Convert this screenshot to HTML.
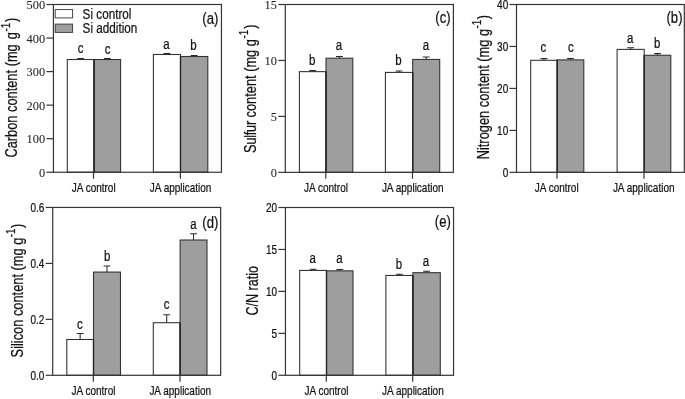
<!DOCTYPE html>
<html><head><meta charset="utf-8"><title>Figure</title>
<style>html,body{margin:0;padding:0;background:#fff;overflow:hidden}svg{display:block;will-change:transform;transform:translateZ(0)}</style></head><body>
<svg width="685" height="399" viewBox="0 0 685 399">
<rect width="685" height="399" fill="#fff"/>
<path d="M80.65 59.52V58.52M77.25 58.52H84.05" stroke="#2a2a2a" stroke-width="1.05" fill="none"/>
<rect x="67.30" y="59.52" width="26.70" height="112.73" fill="#ffffff"/>
<path d="M107.30 59.52V58.52M103.90 58.52H110.70" stroke="#2a2a2a" stroke-width="1.05" fill="none"/>
<rect x="94.00" y="59.52" width="26.60" height="112.73" fill="#9e9e9e"/>
<path d="M166.95 54.49V53.48M163.55 53.48H170.35" stroke="#2a2a2a" stroke-width="1.05" fill="none"/>
<rect x="153.40" y="54.49" width="27.10" height="117.76" fill="#ffffff"/>
<path d="M194.15 56.50V55.50M190.75 55.50H197.55" stroke="#2a2a2a" stroke-width="1.05" fill="none"/>
<rect x="180.50" y="56.50" width="27.30" height="115.75" fill="#9e9e9e"/>
<rect x="67.30" y="59.52" width="26.70" height="112.73" fill="none" stroke="#323232" stroke-width="1.08"/>
<rect x="94.00" y="59.52" width="26.60" height="112.73" fill="none" stroke="#323232" stroke-width="1.08"/>
<rect x="153.40" y="54.49" width="27.10" height="117.76" fill="none" stroke="#323232" stroke-width="1.08"/>
<rect x="180.50" y="56.50" width="27.30" height="115.75" fill="none" stroke="#323232" stroke-width="1.08"/>
<path d="M94.00 59.52V172.25" stroke="#222" stroke-width="1.25"/>
<path d="M180.50 56.50V172.25" stroke="#222" stroke-width="1.25"/>
<rect x="53.45" y="4.50" width="168.00" height="167.75" fill="none" stroke="#353535" stroke-width="1.2"/>
<path d="M46.45 172.25H53.45" stroke="#353535" stroke-width="1.2"/>
<text x="45.15" y="176.80" font-family="'Liberation Serif', serif" font-size="12.4" text-anchor="end" fill="#1c1c1c" stroke="#1c1c1c" stroke-width="0.04">0</text>
<path d="M46.45 138.70H53.45" stroke="#353535" stroke-width="1.2"/>
<text x="45.15" y="143.25" font-family="'Liberation Serif', serif" font-size="12.4" text-anchor="end" fill="#1c1c1c" stroke="#1c1c1c" stroke-width="0.04">100</text>
<path d="M46.45 105.15H53.45" stroke="#353535" stroke-width="1.2"/>
<text x="45.15" y="109.70" font-family="'Liberation Serif', serif" font-size="12.4" text-anchor="end" fill="#1c1c1c" stroke="#1c1c1c" stroke-width="0.04">200</text>
<path d="M46.45 71.60H53.45" stroke="#353535" stroke-width="1.2"/>
<text x="45.15" y="76.15" font-family="'Liberation Serif', serif" font-size="12.4" text-anchor="end" fill="#1c1c1c" stroke="#1c1c1c" stroke-width="0.04">300</text>
<path d="M46.45 38.05H53.45" stroke="#353535" stroke-width="1.2"/>
<text x="45.15" y="42.60" font-family="'Liberation Serif', serif" font-size="12.4" text-anchor="end" fill="#1c1c1c" stroke="#1c1c1c" stroke-width="0.04">400</text>
<path d="M46.45 4.50H53.45" stroke="#353535" stroke-width="1.2"/>
<text x="45.15" y="9.05" font-family="'Liberation Serif', serif" font-size="12.4" text-anchor="end" fill="#1c1c1c" stroke="#1c1c1c" stroke-width="0.04">500</text>
<path d="M93.50 172.25V178.75" stroke="#353535" stroke-width="1.2"/>
<path d="M180.40 172.25V178.75" stroke="#353535" stroke-width="1.2"/>
<text transform="translate(93.70,192.30) scale(0.82,1)" font-family="'Liberation Sans', sans-serif" font-size="12.2" text-anchor="middle" fill="#111" stroke="#111" stroke-width="0.22">JA control</text>
<text transform="translate(180.60,192.30) scale(0.82,1)" font-family="'Liberation Sans', sans-serif" font-size="12.2" text-anchor="middle" fill="#111" stroke="#111" stroke-width="0.22">JA application</text>
<text transform="translate(80.50,53.10) scale(0.82,1)" font-family="'Liberation Sans', sans-serif" font-size="14" text-anchor="middle" fill="#111" stroke="#111" stroke-width="0.22">c</text>
<text transform="translate(107.50,54.10) scale(0.82,1)" font-family="'Liberation Sans', sans-serif" font-size="14" text-anchor="middle" fill="#111" stroke="#111" stroke-width="0.22">c</text>
<text transform="translate(166.40,48.60) scale(0.82,1)" font-family="'Liberation Sans', sans-serif" font-size="14" text-anchor="middle" fill="#111" stroke="#111" stroke-width="0.22">a</text>
<text transform="translate(193.50,50.10) scale(0.82,1)" font-family="'Liberation Sans', sans-serif" font-size="14" text-anchor="middle" fill="#111" stroke="#111" stroke-width="0.22">b</text>
<text transform="translate(210.30,23.65) scale(0.82,1)" font-family="'Liberation Sans', sans-serif" font-size="16" text-anchor="middle" fill="#111" stroke="#111" stroke-width="0.22">(a)</text>
<text transform="translate(17.40,157.60) rotate(-90) scale(0.817,1)" font-family="'Liberation Sans', sans-serif" font-size="15.7" text-anchor="start" fill="#111" stroke="#111" stroke-width="0.22">Carbon content (mg <tspan dx="1.8">g</tspan><tspan font-size="12" dy="-7.9" dx="0.8">-1</tspan><tspan dy="7.9" dx="1.0">)</tspan></text>
<path d="M312.70 71.64V70.52M309.30 70.52H316.10" stroke="#2a2a2a" stroke-width="1.05" fill="none"/>
<rect x="299.40" y="71.64" width="26.60" height="100.71" fill="#ffffff"/>
<path d="M339.40 58.21V56.53M336.00 56.53H342.80" stroke="#2a2a2a" stroke-width="1.05" fill="none"/>
<rect x="326.00" y="58.21" width="26.80" height="114.14" fill="#9e9e9e"/>
<path d="M399.05 72.42V71.08M395.65 71.08H402.45" stroke="#2a2a2a" stroke-width="1.05" fill="none"/>
<rect x="385.40" y="72.42" width="27.30" height="99.93" fill="#ffffff"/>
<path d="M426.20 59.44V57.09M422.80 57.09H429.60" stroke="#2a2a2a" stroke-width="1.05" fill="none"/>
<rect x="412.70" y="59.44" width="27.00" height="112.91" fill="#9e9e9e"/>
<rect x="299.40" y="71.64" width="26.60" height="100.71" fill="none" stroke="#323232" stroke-width="1.08"/>
<rect x="326.00" y="58.21" width="26.80" height="114.14" fill="none" stroke="#323232" stroke-width="1.08"/>
<rect x="385.40" y="72.42" width="27.30" height="99.93" fill="none" stroke="#323232" stroke-width="1.08"/>
<rect x="412.70" y="59.44" width="27.00" height="112.91" fill="none" stroke="#323232" stroke-width="1.08"/>
<path d="M326.00 71.64V172.35" stroke="#222" stroke-width="1.25"/>
<path d="M412.70 72.42V172.35" stroke="#222" stroke-width="1.25"/>
<rect x="285.30" y="4.50" width="168.10" height="167.85" fill="none" stroke="#353535" stroke-width="1.2"/>
<path d="M278.30 172.35H285.30" stroke="#353535" stroke-width="1.2"/>
<text x="277.00" y="176.90" font-family="'Liberation Serif', serif" font-size="12.4" text-anchor="end" fill="#1c1c1c" stroke="#1c1c1c" stroke-width="0.04">0</text>
<path d="M278.30 116.40H285.30" stroke="#353535" stroke-width="1.2"/>
<text x="277.00" y="120.95" font-family="'Liberation Serif', serif" font-size="12.4" text-anchor="end" fill="#1c1c1c" stroke="#1c1c1c" stroke-width="0.04">5</text>
<path d="M278.30 60.45H285.30" stroke="#353535" stroke-width="1.2"/>
<text x="277.00" y="65.00" font-family="'Liberation Serif', serif" font-size="12.4" text-anchor="end" fill="#1c1c1c" stroke="#1c1c1c" stroke-width="0.04">10</text>
<path d="M278.30 4.50H285.30" stroke="#353535" stroke-width="1.2"/>
<text x="277.00" y="9.05" font-family="'Liberation Serif', serif" font-size="12.4" text-anchor="end" fill="#1c1c1c" stroke="#1c1c1c" stroke-width="0.04">15</text>
<path d="M325.80 172.35V178.85" stroke="#353535" stroke-width="1.2"/>
<path d="M412.50 172.35V178.85" stroke="#353535" stroke-width="1.2"/>
<text transform="translate(326.00,192.40) scale(0.82,1)" font-family="'Liberation Sans', sans-serif" font-size="12.2" text-anchor="middle" fill="#111" stroke="#111" stroke-width="0.22">JA control</text>
<text transform="translate(412.70,192.40) scale(0.82,1)" font-family="'Liberation Sans', sans-serif" font-size="12.2" text-anchor="middle" fill="#111" stroke="#111" stroke-width="0.22">JA application</text>
<text transform="translate(312.20,64.70) scale(0.82,1)" font-family="'Liberation Sans', sans-serif" font-size="14" text-anchor="middle" fill="#111" stroke="#111" stroke-width="0.22">b</text>
<text transform="translate(339.00,50.10) scale(0.82,1)" font-family="'Liberation Sans', sans-serif" font-size="14" text-anchor="middle" fill="#111" stroke="#111" stroke-width="0.22">a</text>
<text transform="translate(398.40,65.20) scale(0.82,1)" font-family="'Liberation Sans', sans-serif" font-size="14" text-anchor="middle" fill="#111" stroke="#111" stroke-width="0.22">b</text>
<text transform="translate(426.00,50.10) scale(0.82,1)" font-family="'Liberation Sans', sans-serif" font-size="14" text-anchor="middle" fill="#111" stroke="#111" stroke-width="0.22">a</text>
<text transform="translate(443.00,23.15) scale(0.82,1)" font-family="'Liberation Sans', sans-serif" font-size="16" text-anchor="middle" fill="#111" stroke="#111" stroke-width="0.22">(c)</text>
<text transform="translate(256.20,152.90) rotate(-90) scale(0.817,1)" font-family="'Liberation Sans', sans-serif" font-size="15.7" text-anchor="start" fill="#111" stroke="#111" stroke-width="0.22"><tspan letter-spacing="-0.33">Sulfur</tspan> content (mg <tspan dx="0">g</tspan><tspan font-size="12" dy="-7.9" dx="0.6">-1</tspan><tspan dy="7.9" dx="1.4">)</tspan></text>
<path d="M543.95 60.31V58.63M540.55 58.63H547.35" stroke="#2a2a2a" stroke-width="1.05" fill="none"/>
<rect x="530.70" y="60.31" width="26.50" height="112.04" fill="#ffffff"/>
<path d="M570.50 59.89V58.42M567.10 58.42H573.90" stroke="#2a2a2a" stroke-width="1.05" fill="none"/>
<rect x="557.20" y="59.89" width="26.60" height="112.46" fill="#9e9e9e"/>
<path d="M630.65 49.40V47.72M627.25 47.72H634.05" stroke="#2a2a2a" stroke-width="1.05" fill="none"/>
<rect x="617.10" y="49.40" width="27.10" height="122.95" fill="#ffffff"/>
<path d="M657.50 55.27V53.60M654.10 53.60H660.90" stroke="#2a2a2a" stroke-width="1.05" fill="none"/>
<rect x="644.20" y="55.27" width="26.60" height="117.08" fill="#9e9e9e"/>
<rect x="530.70" y="60.31" width="26.50" height="112.04" fill="none" stroke="#323232" stroke-width="1.08"/>
<rect x="557.20" y="59.89" width="26.60" height="112.46" fill="none" stroke="#323232" stroke-width="1.08"/>
<rect x="617.10" y="49.40" width="27.10" height="122.95" fill="none" stroke="#323232" stroke-width="1.08"/>
<rect x="644.20" y="55.27" width="26.60" height="117.08" fill="none" stroke="#323232" stroke-width="1.08"/>
<path d="M557.20 60.31V172.35" stroke="#222" stroke-width="1.25"/>
<path d="M644.20 55.27V172.35" stroke="#222" stroke-width="1.25"/>
<rect x="516.50" y="4.50" width="167.80" height="167.85" fill="none" stroke="#353535" stroke-width="1.2"/>
<path d="M509.50 172.35H516.50" stroke="#353535" stroke-width="1.2"/>
<text transform="translate(508.20,176.95) scale(0.82,1)" font-family="'Liberation Sans', sans-serif" font-size="12.2" text-anchor="end" fill="#111" stroke="#111" stroke-width="0.22">0</text>
<path d="M509.50 130.39H516.50" stroke="#353535" stroke-width="1.2"/>
<text transform="translate(508.20,134.99) scale(0.82,1)" font-family="'Liberation Sans', sans-serif" font-size="12.2" text-anchor="end" fill="#111" stroke="#111" stroke-width="0.22">10</text>
<path d="M509.50 88.42H516.50" stroke="#353535" stroke-width="1.2"/>
<text transform="translate(508.20,93.02) scale(0.82,1)" font-family="'Liberation Sans', sans-serif" font-size="12.2" text-anchor="end" fill="#111" stroke="#111" stroke-width="0.22">20</text>
<path d="M509.50 46.46H516.50" stroke="#353535" stroke-width="1.2"/>
<text transform="translate(508.20,51.06) scale(0.82,1)" font-family="'Liberation Sans', sans-serif" font-size="12.2" text-anchor="end" fill="#111" stroke="#111" stroke-width="0.22">30</text>
<path d="M509.50 4.50H516.50" stroke="#353535" stroke-width="1.2"/>
<text transform="translate(508.20,9.10) scale(0.82,1)" font-family="'Liberation Sans', sans-serif" font-size="12.2" text-anchor="end" fill="#111" stroke="#111" stroke-width="0.22">40</text>
<path d="M557.00 172.35V178.85" stroke="#353535" stroke-width="1.2"/>
<path d="M644.00 172.35V178.85" stroke="#353535" stroke-width="1.2"/>
<text transform="translate(556.70,192.40) scale(0.82,1)" font-family="'Liberation Sans', sans-serif" font-size="12.2" text-anchor="middle" fill="#111" stroke="#111" stroke-width="0.22">JA control</text>
<text transform="translate(643.70,192.40) scale(0.82,1)" font-family="'Liberation Sans', sans-serif" font-size="12.2" text-anchor="middle" fill="#111" stroke="#111" stroke-width="0.22">JA application</text>
<text transform="translate(543.40,52.30) scale(0.82,1)" font-family="'Liberation Sans', sans-serif" font-size="14" text-anchor="middle" fill="#111" stroke="#111" stroke-width="0.22">c</text>
<text transform="translate(570.80,52.30) scale(0.82,1)" font-family="'Liberation Sans', sans-serif" font-size="14" text-anchor="middle" fill="#111" stroke="#111" stroke-width="0.22">c</text>
<text transform="translate(630.20,42.50) scale(0.82,1)" font-family="'Liberation Sans', sans-serif" font-size="14" text-anchor="middle" fill="#111" stroke="#111" stroke-width="0.22">a</text>
<text transform="translate(657.20,47.50) scale(0.82,1)" font-family="'Liberation Sans', sans-serif" font-size="14" text-anchor="middle" fill="#111" stroke="#111" stroke-width="0.22">b</text>
<text transform="translate(674.50,23.45) scale(0.82,1)" font-family="'Liberation Sans', sans-serif" font-size="16" text-anchor="middle" fill="#111" stroke="#111" stroke-width="0.22">(b)</text>
<text transform="translate(488.80,159.30) rotate(-90) scale(0.817,1)" font-family="'Liberation Sans', sans-serif" font-size="15.7" text-anchor="start" fill="#111" stroke="#111" stroke-width="0.22">Nitrogen content (mg <tspan dx="0">g</tspan><tspan font-size="12" dy="-7.9" dx="0.5">-1</tspan><tspan dy="7.9" dx="0.7">)</tspan></text>
<path d="M80.15 339.49V333.48M76.75 333.48H83.55" stroke="#2a2a2a" stroke-width="1.05" fill="none"/>
<rect x="66.80" y="339.49" width="26.70" height="35.81" fill="#ffffff"/>
<path d="M107.00 272.07V265.92M103.60 265.92H110.40" stroke="#2a2a2a" stroke-width="1.05" fill="none"/>
<rect x="93.50" y="272.07" width="27.00" height="103.23" fill="#9e9e9e"/>
<path d="M166.70 322.71V314.68M163.30 314.68H170.10" stroke="#2a2a2a" stroke-width="1.05" fill="none"/>
<rect x="153.30" y="322.71" width="26.80" height="52.59" fill="#ffffff"/>
<path d="M193.55 240.01V233.75M190.15 233.75H196.95" stroke="#2a2a2a" stroke-width="1.05" fill="none"/>
<rect x="180.10" y="240.01" width="26.90" height="135.29" fill="#9e9e9e"/>
<rect x="66.80" y="339.49" width="26.70" height="35.81" fill="none" stroke="#323232" stroke-width="1.08"/>
<rect x="93.50" y="272.07" width="27.00" height="103.23" fill="none" stroke="#323232" stroke-width="1.08"/>
<rect x="153.30" y="322.71" width="26.80" height="52.59" fill="none" stroke="#323232" stroke-width="1.08"/>
<rect x="180.10" y="240.01" width="26.90" height="135.29" fill="none" stroke="#323232" stroke-width="1.08"/>
<path d="M93.50 339.49V375.30" stroke="#222" stroke-width="1.25"/>
<path d="M180.10 322.71V375.30" stroke="#222" stroke-width="1.25"/>
<rect x="52.70" y="207.45" width="167.95" height="167.85" fill="none" stroke="#353535" stroke-width="1.2"/>
<path d="M45.70 375.30H52.70" stroke="#353535" stroke-width="1.2"/>
<text transform="translate(44.40,379.90) scale(0.82,1)" font-family="'Liberation Sans', sans-serif" font-size="12.2" text-anchor="end" fill="#111" stroke="#111" stroke-width="0.22">0.0</text>
<path d="M45.70 319.35H52.70" stroke="#353535" stroke-width="1.2"/>
<text transform="translate(44.40,323.95) scale(0.82,1)" font-family="'Liberation Sans', sans-serif" font-size="12.2" text-anchor="end" fill="#111" stroke="#111" stroke-width="0.22">0.2</text>
<path d="M45.70 263.40H52.70" stroke="#353535" stroke-width="1.2"/>
<text transform="translate(44.40,268.00) scale(0.82,1)" font-family="'Liberation Sans', sans-serif" font-size="12.2" text-anchor="end" fill="#111" stroke="#111" stroke-width="0.22">0.4</text>
<path d="M45.70 207.45H52.70" stroke="#353535" stroke-width="1.2"/>
<text transform="translate(44.40,212.05) scale(0.82,1)" font-family="'Liberation Sans', sans-serif" font-size="12.2" text-anchor="end" fill="#111" stroke="#111" stroke-width="0.22">0.6</text>
<path d="M93.30 375.30V381.80" stroke="#353535" stroke-width="1.2"/>
<path d="M180.00 375.30V381.80" stroke="#353535" stroke-width="1.2"/>
<text transform="translate(93.50,395.35) scale(0.82,1)" font-family="'Liberation Sans', sans-serif" font-size="12.2" text-anchor="middle" fill="#111" stroke="#111" stroke-width="0.22">JA control</text>
<text transform="translate(180.20,395.35) scale(0.82,1)" font-family="'Liberation Sans', sans-serif" font-size="12.2" text-anchor="middle" fill="#111" stroke="#111" stroke-width="0.22">JA application</text>
<text transform="translate(79.80,328.90) scale(0.82,1)" font-family="'Liberation Sans', sans-serif" font-size="14" text-anchor="middle" fill="#111" stroke="#111" stroke-width="0.22">c</text>
<text transform="translate(107.30,260.70) scale(0.82,1)" font-family="'Liberation Sans', sans-serif" font-size="14" text-anchor="middle" fill="#111" stroke="#111" stroke-width="0.22">b</text>
<text transform="translate(166.70,308.70) scale(0.82,1)" font-family="'Liberation Sans', sans-serif" font-size="14" text-anchor="middle" fill="#111" stroke="#111" stroke-width="0.22">c</text>
<text transform="translate(193.50,229.00) scale(0.82,1)" font-family="'Liberation Sans', sans-serif" font-size="14" text-anchor="middle" fill="#111" stroke="#111" stroke-width="0.22">a</text>
<text transform="translate(210.30,227.55) scale(0.82,1)" font-family="'Liberation Sans', sans-serif" font-size="16" text-anchor="middle" fill="#111" stroke="#111" stroke-width="0.22">(d)</text>
<text transform="translate(22.60,357.40) rotate(-90) scale(0.817,1)" font-family="'Liberation Sans', sans-serif" font-size="15.7" text-anchor="start" fill="#111" stroke="#111" stroke-width="0.22">Silicon content (mg <tspan dx="0">g</tspan><tspan font-size="12" dy="-7.9" dx="0.5">-1</tspan><tspan dy="7.9" dx="0.8">)</tspan></text>
<path d="M313.10 270.43V269.17M309.70 269.17H316.50" stroke="#2a2a2a" stroke-width="1.05" fill="none"/>
<rect x="299.70" y="270.43" width="26.80" height="104.88" fill="#ffffff"/>
<path d="M339.75 270.84V269.59M336.35 269.59H343.15" stroke="#2a2a2a" stroke-width="1.05" fill="none"/>
<rect x="326.50" y="270.84" width="26.50" height="104.46" fill="#9e9e9e"/>
<path d="M399.40 275.46V274.20M396.00 274.20H402.80" stroke="#2a2a2a" stroke-width="1.05" fill="none"/>
<rect x="385.90" y="275.46" width="27.00" height="99.84" fill="#ffffff"/>
<path d="M426.60 272.69V271.26M423.20 271.26H430.00" stroke="#2a2a2a" stroke-width="1.05" fill="none"/>
<rect x="412.90" y="272.69" width="27.40" height="102.61" fill="#9e9e9e"/>
<rect x="299.70" y="270.43" width="26.80" height="104.88" fill="none" stroke="#323232" stroke-width="1.08"/>
<rect x="326.50" y="270.84" width="26.50" height="104.46" fill="none" stroke="#323232" stroke-width="1.08"/>
<rect x="385.90" y="275.46" width="27.00" height="99.84" fill="none" stroke="#323232" stroke-width="1.08"/>
<rect x="412.90" y="272.69" width="27.40" height="102.61" fill="none" stroke="#323232" stroke-width="1.08"/>
<path d="M326.50 270.84V375.30" stroke="#222" stroke-width="1.25"/>
<path d="M412.90 275.46V375.30" stroke="#222" stroke-width="1.25"/>
<rect x="285.45" y="207.50" width="168.10" height="167.80" fill="none" stroke="#353535" stroke-width="1.2"/>
<path d="M278.45 375.30H285.45" stroke="#353535" stroke-width="1.2"/>
<text transform="translate(277.15,379.90) scale(0.82,1)" font-family="'Liberation Sans', sans-serif" font-size="12.2" text-anchor="end" fill="#111" stroke="#111" stroke-width="0.22">0</text>
<path d="M278.45 333.35H285.45" stroke="#353535" stroke-width="1.2"/>
<text transform="translate(277.15,337.95) scale(0.82,1)" font-family="'Liberation Sans', sans-serif" font-size="12.2" text-anchor="end" fill="#111" stroke="#111" stroke-width="0.22">5</text>
<path d="M278.45 291.40H285.45" stroke="#353535" stroke-width="1.2"/>
<text transform="translate(277.15,296.00) scale(0.82,1)" font-family="'Liberation Sans', sans-serif" font-size="12.2" text-anchor="end" fill="#111" stroke="#111" stroke-width="0.22">10</text>
<path d="M278.45 249.45H285.45" stroke="#353535" stroke-width="1.2"/>
<text transform="translate(277.15,254.05) scale(0.82,1)" font-family="'Liberation Sans', sans-serif" font-size="12.2" text-anchor="end" fill="#111" stroke="#111" stroke-width="0.22">15</text>
<path d="M278.45 207.50H285.45" stroke="#353535" stroke-width="1.2"/>
<text transform="translate(277.15,212.10) scale(0.82,1)" font-family="'Liberation Sans', sans-serif" font-size="12.2" text-anchor="end" fill="#111" stroke="#111" stroke-width="0.22">20</text>
<path d="M326.30 375.30V381.80" stroke="#353535" stroke-width="1.2"/>
<path d="M412.70 375.30V381.80" stroke="#353535" stroke-width="1.2"/>
<text transform="translate(326.50,395.35) scale(0.82,1)" font-family="'Liberation Sans', sans-serif" font-size="12.2" text-anchor="middle" fill="#111" stroke="#111" stroke-width="0.22">JA control</text>
<text transform="translate(412.90,395.35) scale(0.82,1)" font-family="'Liberation Sans', sans-serif" font-size="12.2" text-anchor="middle" fill="#111" stroke="#111" stroke-width="0.22">JA application</text>
<text transform="translate(312.70,263.20) scale(0.82,1)" font-family="'Liberation Sans', sans-serif" font-size="14" text-anchor="middle" fill="#111" stroke="#111" stroke-width="0.22">a</text>
<text transform="translate(339.50,263.20) scale(0.82,1)" font-family="'Liberation Sans', sans-serif" font-size="14" text-anchor="middle" fill="#111" stroke="#111" stroke-width="0.22">a</text>
<text transform="translate(398.90,269.40) scale(0.82,1)" font-family="'Liberation Sans', sans-serif" font-size="14" text-anchor="middle" fill="#111" stroke="#111" stroke-width="0.22">b</text>
<text transform="translate(426.00,265.70) scale(0.82,1)" font-family="'Liberation Sans', sans-serif" font-size="14" text-anchor="middle" fill="#111" stroke="#111" stroke-width="0.22">a</text>
<text transform="translate(442.80,227.35) scale(0.82,1)" font-family="'Liberation Sans', sans-serif" font-size="16" text-anchor="middle" fill="#111" stroke="#111" stroke-width="0.22">(e)</text>
<text transform="translate(258.40,315.60) rotate(-90) scale(0.8,1)" font-family="'Liberation Sans', sans-serif" font-size="15.7" text-anchor="start" fill="#111" stroke="#111" stroke-width="0.22">C/N ratio</text>
<rect x="55.2" y="9.6" width="17.4" height="8.3" fill="#fff" stroke="#353535" stroke-width="0.9"/>
<rect x="55.2" y="24.1" width="17.4" height="8.3" fill="#9e9e9e" stroke="#353535" stroke-width="0.9"/>
<text transform="translate(82.60,19.00) scale(0.82,1)" font-family="'Liberation Sans', sans-serif" font-size="14.3" text-anchor="start" fill="#111" stroke="#111" stroke-width="0.22">Si control</text>
<text transform="translate(82.60,32.50) scale(0.82,1)" font-family="'Liberation Sans', sans-serif" font-size="14.3" text-anchor="start" fill="#111" stroke="#111" stroke-width="0.22">Si addition</text>
</svg></body></html>
